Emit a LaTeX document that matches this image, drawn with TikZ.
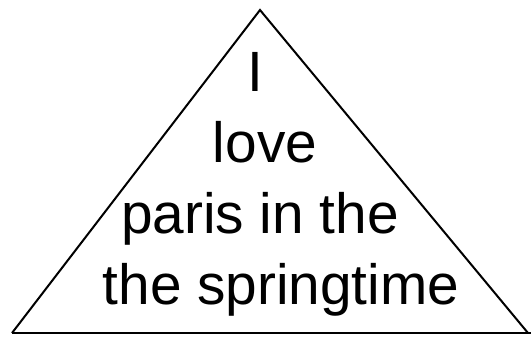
\documentclass[tikz,border=0pt]{standalone}
\usepackage{fontspec}
\setmainfont{Liberation Sans}
\begin{document}
\begin{tikzpicture}[x=1bp,y=-1bp,
  txt/.style={anchor=base,inner sep=0pt,font=\fontsize{57}{68}\selectfont},
  edge/.style={line width=2bp,line join=miter}]
\useasboundingbox (0,0) rectangle (531,336);
\coordinate (L) at (12,333);
\coordinate (T) at (260,10);
\coordinate (R) at (528,333);
\coordinate (E) at (531,333);
\draw[edge] (L) -- (T) -- (R);
\draw[line width=2.8bp] (L) -- (E);
\node[txt] (l1) at (255,91) {I};
\node[txt] (l2) at (265,162) {love};
\node[txt] (l3) at (260,233) {paris in the};
\node[txt] (l4) at (281,304) {the springtime};
\end{tikzpicture}
\end{document}
